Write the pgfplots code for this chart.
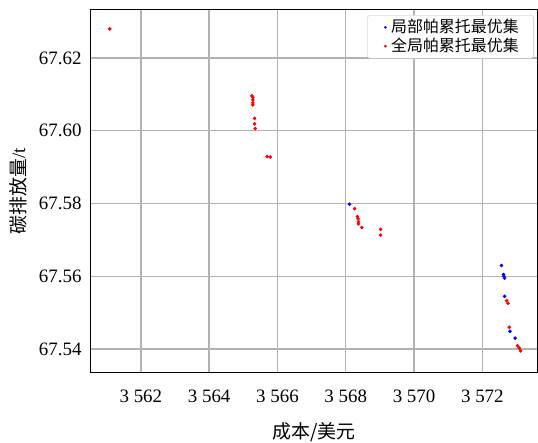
\documentclass[border=0pt]{standalone}
\usepackage{fontspec}
\setmainfont{Liberation Serif}
\newfontfamily\cjk{Noto Sans CJK SC}
\usepackage{pgfplots}
\pgfplotsset{compat=1.18}
\begin{document}
\fontsize{19}{22}\selectfont
\begin{tikzpicture}
\begin{axis}[name=ax, scale only axis, width=446bp, height=362bp,
  xmin=3560.54, xmax=3573.6, ymin=67.5337, ymax=67.6332,
  xtick={3562,3564,3566,3568,3570,3572},
  ytick={67.54,67.56,67.58,67.60,67.62},
  /pgf/number format/assume math mode=true,
  xticklabel style={/pgf/number format/1000 sep={\ }, yshift=-11bp},
  yticklabel style={/pgf/number format/fixed, /pgf/number format/precision=2, /pgf/number format/fixed zerofill, xshift=-3bp},
  major tick length=0pt,
  grid=major, major grid style={color=black!30, line width=1.4bp},
  axis line style={black, line width=1bp},
  xlabel={\cjk 成本/美元},
  ylabel={{\cjk 碳排放量}/t},
  xlabel style={at={(axis description cs:0.5,-0.1657)}, anchor=center},
  ylabel style={at={(axis description cs:-0.1637,0.5)}, anchor=center},
  legend style={at={(0.993,0.986)}, anchor=north east, draw=black!25, rounded corners=3bp,
    font=\cjk\fontsize{16}{17}\selectfont, row sep=-1.5bp},
  legend image code/.code={\path[draw=none,fill=none] (-0.8em,0bp) -- (0.2em,0bp); \fill (0bp,0bp) circle (1.1bp);},
  legend cell align=left,
]
\addplot[only marks, mark=*, color=blue, mark size=1.6bp] coordinates {
(3568.11,67.5798) (3572.56,67.5630) (3572.62,67.5605) (3572.63,67.5600)
(3572.65,67.5595) (3572.65,67.5545) (3572.81,67.5449) (3572.96,67.5430)
};
\addlegendentry{局部帕累托最优集\hspace*{10bp}}
\addplot[only marks, mark=*, color=red, mark size=1.6bp] coordinates {
(3561.09,67.6280) (3565.25,67.6096) (3565.28,67.6092) (3565.28,67.6085)
(3565.28,67.6077) (3565.28,67.6071) (3565.33,67.6034) (3565.33,67.6019)
(3565.35,67.6006) (3565.70,67.5929) (3565.79,67.5928) (3568.26,67.5786)
(3568.34,67.5764) (3568.36,67.5758) (3568.37,67.5750) (3568.37,67.5744)
(3568.47,67.5734) (3569.02,67.5729) (3569.02,67.5713) (3572.71,67.5533)
(3572.75,67.5526) (3572.79,67.5460) (3573.03,67.5409) (3573.08,67.5403)
(3573.12,67.5395)
};
\addlegendentry{全局帕累托最优集\hspace*{10bp}}
\end{axis}
\pgfresetboundingbox
\path[use as bounding box] (ax.south west) ++(-91bp,-71bp) rectangle ++(538bp,443bp);
\end{tikzpicture}
\end{document}
